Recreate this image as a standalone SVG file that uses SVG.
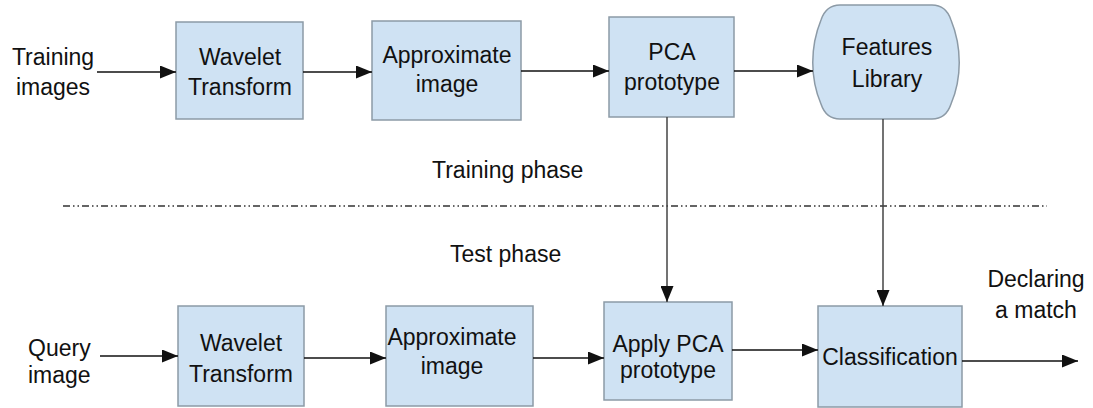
<svg xmlns="http://www.w3.org/2000/svg" width="1093" height="408" viewBox="0 0 1093 408">
<style>
.box{fill:#cfe2f3;stroke:#8c9aa6;stroke-width:1.5}
text{font-family:"Liberation Sans",Arial,sans-serif;font-size:23px;fill:#111}
.c{text-anchor:middle}
.ln{stroke:#111;stroke-width:1.4;fill:none}
.vl{stroke:#444;stroke-width:1.5;fill:none}
.dash{stroke:#333;stroke-width:1.3;stroke-dasharray:7 3 1.5 3 1.5 3;fill:none}
</style>
<defs>
<marker id="ah" markerUnits="userSpaceOnUse" markerWidth="17" markerHeight="13" refX="16" refY="6.5" orient="auto">
<path d="M0,0 L16,6.5 L0,13 Z" fill="#111"/>
</marker>
</defs>
<rect width="1093" height="408" fill="#fff"/>
<g id="lbl-training-images"><text class="c" x="53" y="65">Training</text><text class="c" x="53" y="95">images</text></g>
<g id="n-wavelet1"><rect class="box" x="176" y="22" width="127" height="97"/><text class="c" x="240" y="65">Wavelet</text><text class="c" x="240" y="95">Transform</text></g>
<g id="n-approx1"><rect class="box" x="372" y="21" width="149" height="99"/><text class="c" x="447" y="63">Approximate</text><text class="c" x="447" y="92">image</text></g>
<g id="n-pca1"><rect class="box" x="609" y="17" width="125" height="100"/><text class="c" x="672" y="60">PCA</text><text class="c" x="672" y="90">prototype</text></g>
<g id="n-features"><path class="box" d="M840,5 L932,5 Q946,5 951,20 C962,47 962,78 951,104 Q946,119 932,119 L840,119 Q826,119 821,104 C810,78 810,47 821,20 Q826,5 840,5 Z"/><text class="c" x="887" y="55">Features</text><text class="c" x="887" y="87">Library</text></g>
<g id="lbl-phases"><text x="432" y="178">Training phase</text><text x="450" y="262">Test phase</text></g>
<g id="lbl-query"><text x="28" y="356">Query</text><text x="28" y="383">image</text></g>
<g id="n-wavelet2"><rect class="box" x="178" y="306" width="126" height="100"/><text class="c" x="241" y="351">Wavelet</text><text class="c" x="241" y="382">Transform</text></g>
<g id="n-approx2"><rect class="box" x="386" y="306" width="147" height="100"/><text class="c" x="452" y="345">Approximate</text><text class="c" x="452" y="374">image</text></g>
<g id="n-apply"><rect class="box" x="604" y="302" width="128" height="98"/><text class="c" x="668" y="352">Apply PCA</text><text class="c" x="668" y="378">prototype</text></g>
<g id="n-class"><rect class="box" x="818" y="306" width="144" height="101"/><text class="c" x="890" y="365">Classification</text></g>
<g id="lbl-declaring"><text class="c" x="1036" y="287">Declaring</text><text class="c" x="1036" y="318">a match</text></g>
<g id="connectors">
<line class="dash" x1="63" y1="206" x2="1047" y2="206"/>
<line class="ln" x1="97" y1="72" x2="176" y2="72" marker-end="url(#ah)"/>
<line class="ln" x1="303" y1="72" x2="372" y2="72" marker-end="url(#ah)"/>
<line class="ln" x1="521" y1="71" x2="609" y2="71" marker-end="url(#ah)"/>
<line class="ln" x1="734" y1="71" x2="813" y2="71" marker-end="url(#ah)"/>
<line class="vl" x1="667" y1="117" x2="667" y2="302" marker-end="url(#ah)"/>
<line class="vl" x1="883" y1="119" x2="883" y2="306" marker-end="url(#ah)"/>
<line class="ln" x1="100" y1="356" x2="178" y2="356" marker-end="url(#ah)"/>
<line class="ln" x1="304" y1="358" x2="386" y2="358" marker-end="url(#ah)"/>
<line class="ln" x1="533" y1="358" x2="604" y2="358" marker-end="url(#ah)"/>
<line class="ln" x1="732" y1="350" x2="818" y2="350" marker-end="url(#ah)"/>
<line class="ln" x1="962" y1="361" x2="1078" y2="361" marker-end="url(#ah)"/>
</g>
</svg>
